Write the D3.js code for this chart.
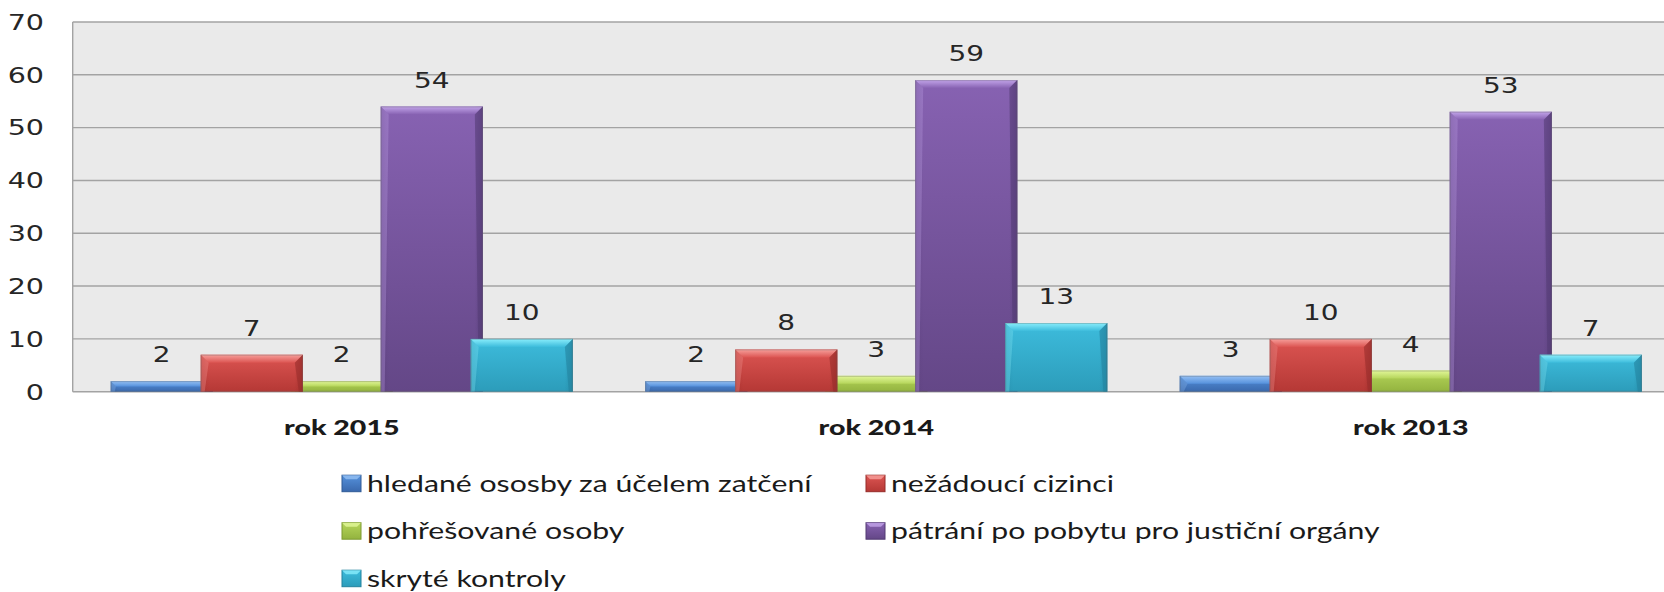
<!DOCTYPE html>
<html>
<head>
<meta charset="utf-8">
<script src="https://cdn.jsdelivr.net/npm/d3@7"></script>
<style>
  body { margin: 0; background: #ffffff; }
  svg { display: block; }
</style>
</head>
<body>
<svg id="chart" width="1664" height="592"></svg>
<script>
// Years shown on the horizontal axis
const categories = ["rok 2015", "rok 2014", "rok 2013"];

// Series names (legend order)
const seriesNames = [
  "hledané ososby za účelem zatčení",
  "nežádoucí cizinci",
  "pohřešované osoby",
  "pátrání po pobytu pro justiční orgány",
  "skryté kontroly"
];

// Values per series, one per year (2015, 2014, 2013)
const hledane = [2, 2, 3];
const nezadouci = [7, 8, 10];
const pohresovane = [2, 3, 4];
const patrani = [54, 59, 53];
const skryte = [10, 13, 7];

const yTicks = [0, 10, 20, 30, 40, 50, 60, 70];

const seriesValues = [hledane, nezadouci, pohresovane, patrani, skryte];

// Fill colours: gradient top, gradient bottom, bevel highlight, edge shade
const palette = [
  { top: "#5591dc", bottom: "#3a69ad", hi: "#95c0f4", edge: "#2f5a96" },
  { top: "#dc5552", bottom: "#b53835", hi: "#f7a09c", edge: "#962b29" },
  { top: "#b5d55a", bottom: "#93b33f", hi: "#e2f79a", edge: "#7c9a30" },
  { top: "#8762b2", bottom: "#644787", hi: "#c3a5ea", edge: "#523a72" },
  { top: "#3dbcdc", bottom: "#2c9cba", hi: "#8aeefc", edge: "#23829d" }
];

const W = 1664, H = 592;
const plot = { left: 72.7, top: 22, bottom: 391.7, right: W };

const svg = d3.select("#chart");
const defs = svg.append("defs");

palette.forEach((p, i) => {
  const g = defs.append("linearGradient")
    .attr("id", "grad" + i).attr("x1", 0).attr("y1", 0).attr("x2", 0).attr("y2", 1);
  g.append("stop").attr("offset", "0%").attr("stop-color", p.top);
  g.append("stop").attr("offset", "100%").attr("stop-color", p.bottom);
  const gt = defs.append("linearGradient")
    .attr("id", "gradt" + i).attr("x1", 0).attr("y1", 0).attr("x2", 0).attr("y2", 1);
  gt.append("stop").attr("offset", "0%").attr("stop-color", p.hi);
  gt.append("stop").attr("offset", "100%").attr("stop-color", p.top);
  const gh = defs.append("linearGradient")
    .attr("id", "gradh" + i).attr("x1", 0).attr("y1", 0).attr("x2", 1).attr("y2", 0);
  gh.append("stop").attr("offset", "0%").attr("stop-color", p.edge).attr("stop-opacity", 0.3);
  gh.append("stop").attr("offset", "8%").attr("stop-color", p.edge).attr("stop-opacity", 0);
  gh.append("stop").attr("offset", "92%").attr("stop-color", p.edge).attr("stop-opacity", 0);
  gh.append("stop").attr("offset", "100%").attr("stop-color", p.edge).attr("stop-opacity", 0.5);
});

defs.append("clipPath").attr("id", "plotClip")
  .append("rect").attr("x", 0).attr("y", 0).attr("width", W).attr("height", H);

// Scales
const y = d3.scaleLinear().domain([0, 70]).range([plot.bottom, plot.top]);
const bandStep = 534.5;
const x0 = d3.scaleBand().domain(categories)
  .range([74.5, 74.5 + bandStep * categories.length]).padding(0);
const x1 = d3.scaleBand().domain(d3.range(seriesNames.length)).range([0, 450]).padding(0);
const barW = x1.bandwidth() * 1.135;
const groupW = x1.step() * (seriesNames.length - 1) + barW;

// Plot background and grid
svg.append("rect")
  .attr("x", plot.left).attr("y", plot.top)
  .attr("width", plot.right - plot.left).attr("height", plot.bottom - plot.top)
  .attr("fill", "#eaeaea");

svg.append("g").selectAll("line").data(yTicks).join("line")
  .attr("x1", plot.left).attr("x2", plot.right)
  .attr("y1", d => y(d)).attr("y2", d => y(d))
  .attr("stroke", "#a3a3a3").attr("stroke-width", 1.4);

svg.append("line")
  .attr("x1", plot.left).attr("x2", plot.left)
  .attr("y1", plot.top).attr("y2", plot.bottom)
  .attr("stroke", "#a3a3a3").attr("stroke-width", 1.4);

// Horizontally stretched text helper
function stretchedText(sel, sx) {
  return sel.attr("transform", d => `translate(${d.x},${d.y}) scale(${sx},1)`);
}

// Y tick labels
stretchedText(
  svg.append("g").selectAll("text").data(yTicks.map(t => ({ t, x: 44, y: y(t) + 7.8 }))).join("text"),
  1.33)
  .attr("text-anchor", "end")
  .attr("font-family", "DejaVu Sans")
  .attr("font-size", 21.5)
  .attr("fill", "#262626")
  .text(d => d.t);

// Bars (blue, green, red, purple, cyan stacking order)
const drawOrder = [0, 2, 1, 3, 4];
const barData = [];
categories.forEach((c, ci) => {
  const gx = x0(c) + (x0.bandwidth() - groupW) / 2;
  drawOrder.forEach(si => {
    const v = seriesValues[si][ci];
    barData.push({ si, ci, v, x: gx + x1(si), y: y(v), w: barW, h: y(0) - y(v) });
  });
});

const bars = svg.append("g").attr("clip-path", "url(#plotClip)")
  .selectAll("g").data(barData).join("g");

bars.append("rect")
  .attr("x", d => d.x).attr("y", d => d.y).attr("width", d => d.w).attr("height", d => d.h)
  .attr("fill", d => `url(#grad${d.si})`);

bars.append("rect")
  .attr("x", d => d.x).attr("y", d => d.y).attr("width", d => d.w).attr("height", d => d.h)
  .attr("fill", d => `url(#gradh${d.si})`);

// Top bevel
bars.append("polygon")
  .attr("points", d => {
    const b = Math.min(8, d.h / 2);
    return [[d.x, d.y], [d.x + d.w, d.y], [d.x + d.w - b, d.y + b], [d.x + b, d.y + b]].join(" ");
  })
  .attr("fill", d => `url(#gradt${d.si})`);

// Side bevels
bars.append("polygon")
  .attr("points", d => {
    const b = Math.min(8, d.h / 2);
    return [[d.x + d.w, d.y], [d.x + d.w, d.y + d.h], [d.x + d.w - 4, d.y + d.h], [d.x + d.w - b, d.y + b]].join(" ");
  })
  .attr("fill", d => palette[d.si].edge).attr("opacity", 0.55);

bars.append("polygon")
  .attr("points", d => {
    const b = Math.min(8, d.h / 2);
    return [[d.x, d.y], [d.x + b, d.y + b], [d.x + 4, d.y + d.h], [d.x, d.y + d.h]].join(" ");
  })
  .attr("fill", d => palette[d.si].hi).attr("opacity", 0.3);

bars.append("rect")
  .attr("x", d => d.x + 0.5).attr("y", d => d.y + 0.5).attr("width", d => d.w - 1).attr("height", d => d.h - 1)
  .attr("fill", "none").attr("stroke", "#5a5a5a").attr("stroke-opacity", 0.3).attr("stroke-width", 1);

// Value labels
stretchedText(
  svg.append("g").selectAll("text")
    .data(barData.map(d => ({ v: d.v, x: d.x + d.w / 2, y: d.y - 19 }))).join("text"),
  1.3)
  .attr("text-anchor", "middle")
  .attr("font-family", "DejaVu Sans")
  .attr("font-size", 21.5)
  .attr("fill", "#262626")
  .text(d => d.v);

// Category labels
stretchedText(
  svg.append("g").selectAll("text")
    .data(categories.map(c => ({ c, x: x0(c) + x0.bandwidth() / 2, y: 434.5 }))).join("text"),
  1.36)
  .attr("text-anchor", "middle")
  .attr("font-family", "Lato")
  .attr("font-weight", 900)
  .attr("font-size", 21)
  .attr("fill", "#1a1a1a")
  .text(d => d.c);

// Legend: two columns, three rows
const legendCols = [342, 866];
const legendRows = [491.7, 539.2, 586.7];
const legendItems = seriesNames.map((name, i) => ({
  name, i, x: legendCols[i % 2], y: legendRows[Math.floor(i / 2)]
}));

const leg = svg.append("g").selectAll("g").data(legendItems).join("g");
leg.append("rect")
  .attr("x", d => d.x).attr("y", d => d.y - 16.5)
  .attr("width", 19).attr("height", 16.5)
  .attr("fill", d => `url(#grad${d.i})`)
  .attr("stroke", d => palette[d.i].edge).attr("stroke-width", 1);
leg.append("polygon")
  .attr("points", d => {
    const x = d.x, t = d.y - 16.5;
    return [[x, t], [x + 19, t], [x + 15, t + 4], [x + 4, t + 4]].join(" ");
  })
  .attr("fill", d => palette[d.i].hi).attr("opacity", 0.8);

stretchedText(
  leg.append("text").datum(d => ({ name: d.name, x: d.x + 25, y: d.y })),
  1.26)
  .attr("font-family", "Lato")
  .attr("font-size", 24)
  .attr("fill", "#1a1a1a")
  .text(d => d.name);
</script>
</body>
</html>
